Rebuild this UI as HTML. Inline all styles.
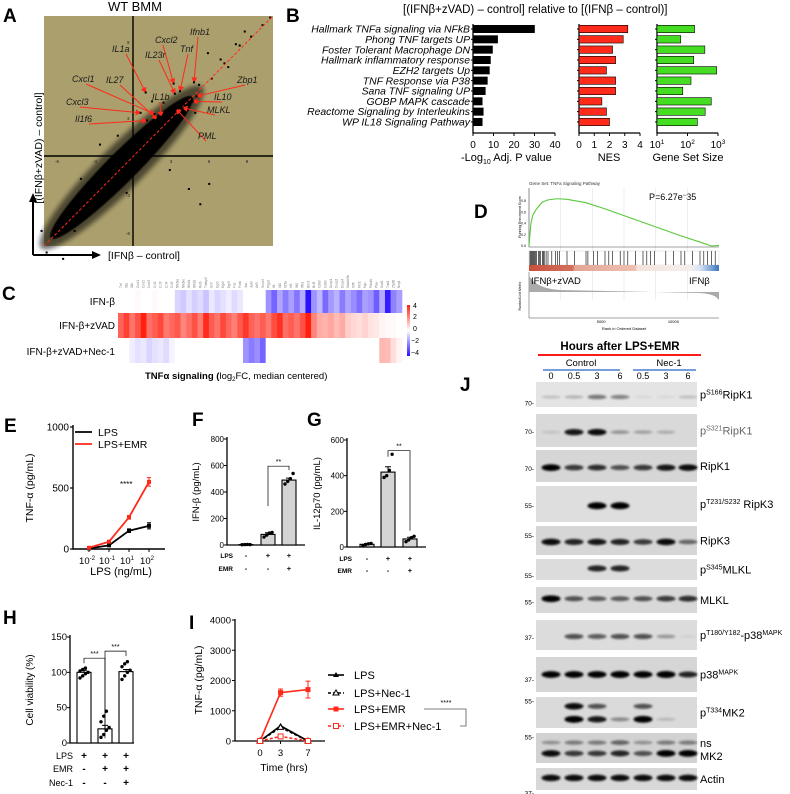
<!DOCTYPE html>
<html><head><meta charset="utf-8">
<style>
html,body{margin:0;padding:0;background:#fff;}
svg{display:block;font-family:"Liberation Sans",sans-serif;}
.pl{font-weight:bold;font-size:19px;}
</style></head>
<body>
<svg id="fig" width="790" height="794" viewBox="0 0 790 794" xmlns="http://www.w3.org/2000/svg">
<defs>
<filter id="blur1" x="-20%" y="-50%" width="140%" height="200%"><feGaussianBlur stdDeviation="1"/></filter>
<filter id="blur2"><feGaussianBlur stdDeviation="2.5"/></filter>
<filter id="blur05"><feGaussianBlur stdDeviation="0.6"/></filter>
<linearGradient id="stripGrad" x1="0" x2="1" y1="0" y2="0">
<stop offset="0" stop-color="#c9503c"/><stop offset="0.23" stop-color="#d2705c"/><stop offset="0.24" stop-color="#e3a594"/><stop offset="0.56" stop-color="#eec0b2"/><stop offset="0.57" stop-color="#f5e3dc"/><stop offset="0.85" stop-color="#f5eeee"/><stop offset="0.9" stop-color="#d8e4f2"/><stop offset="1" stop-color="#3a75c0"/>
</linearGradient>
<linearGradient id="cbarGrad" x1="0" x2="0" y1="0" y2="1">
<stop offset="0" stop-color="#ff2010"/><stop offset="0.5" stop-color="#ffffff"/><stop offset="1" stop-color="#2a10ff"/>
</linearGradient>
<marker id="arrR" markerWidth="6" markerHeight="6" refX="5" refY="3" orient="auto"><path d="M0,0 L6,3 L0,6 z" fill="#ff2a1a"/></marker>
</defs>

<!-- Panel A -->
<g id="panelA">
<text class="pl" x="3" y="22">A</text>
<text x="135" y="11" font-size="13" text-anchor="middle">WT BMM</text>
<rect x="44" y="16" width="229" height="230" fill="#ab9f6d"/>
<g id="cloud"></g>
<line x1="133" y1="16" x2="133" y2="246" stroke="#000" stroke-width="1.4"/>
<line x1="44" y1="156" x2="273" y2="156" stroke="#000" stroke-width="1.4"/>
<line x1="44" y1="246" x2="273" y2="16" stroke="#ff2a1a" stroke-width="1" stroke-dasharray="3,2"/>
<g font-size="4.5" fill="#222">
<text x="57" y="163" text-anchor="middle">-6</text><text x="95" y="163" text-anchor="middle">-3</text><text x="171" y="163" text-anchor="middle">3</text><text x="209" y="163" text-anchor="middle">6</text><text x="247" y="163" text-anchor="middle">9</text>
<text x="127" y="44">9</text><text x="127" y="120">3</text><text x="126" y="197">-3</text><text x="126" y="235">-6</text>
</g>
<g id="geneLabels" font-size="9" font-style="italic" fill="#1a1a1a"></g>
<path d="M33,255 L33,200 M33,255 L96,255" stroke="#000" stroke-width="2" fill="none"/>
<polygon points="33,193 29,202 37,202" fill="#000"/>
<polygon points="101,255 92,251 92,259" fill="#000"/>
<text transform="translate(42,148) rotate(-90)" font-size="10.5" text-anchor="middle">[(IFNβ+zVAD) – control]</text>
<text x="108" y="259" font-size="10.5">[IFNβ – control]</text>
</g>

<!-- Panel B -->
<g id="panelB">
<text class="pl" x="286" y="22">B</text>
<text x="403" y="13" font-size="11.5">[(IFNβ+zVAD) – control] relative to [(IFNβ – control)]</text>
<g id="bChart"></g>
</g>

<!-- Panel D -->
<g id="panelD">
<text class="pl" x="474" y="218">D</text>
<text x="529" y="185" font-size="4.5" fill="#333">Gene Set: TNFa Signaling Pathway</text>
<text x="649" y="200" font-size="9">P=6.27e<tspan dy="-3" font-size="6">−</tspan><tspan dy="3">35</tspan></text>
<g id="dChart"></g>
</g>

<!-- Panel C -->
<g id="panelC">
<text class="pl" x="2" y="300">C</text>
<g font-size="10" text-anchor="end">
<text x="115" y="305">IFN-β</text>
<text x="115" y="329">IFN-β+zVAD</text>
<text x="115" y="355">IFN-β+zVAD+Nec-1</text>
</g>
<g id="cChart"></g>
<rect x="407" y="305" width="3" height="51" fill="url(#cbarGrad)"/>
<g font-size="7">
<text x="413" y="308">4</text><text x="413" y="319">2</text><text x="413" y="331">0</text><text x="411" y="343">−2</text><text x="411" y="355">−4</text>
</g>
<text x="145" y="379" font-size="9.5"><tspan font-weight="bold">TNFα signaling (</tspan>log<tspan font-size="6" dy="2">2</tspan><tspan dy="-2">FC, median centered)</tspan></text>
</g>

<!-- Panel E -->
<g id="panelE">
<text class="pl" x="4" y="432">E</text>
<g id="eChart"></g>
</g>
<g id="panelF">
<text class="pl" x="192" y="426">F</text>
<g id="fChart"></g>
</g>
<g id="panelG">
<text class="pl" x="307" y="426">G</text>
<g id="gChart"></g>
</g>
<g id="panelH">
<text class="pl" x="3" y="624">H</text>
<g id="hChart"></g>
</g>
<g id="panelI">
<text class="pl" x="189" y="629">I</text>
<g id="iChart"></g>
</g>

<!-- Panel J -->
<g id="panelJ">
<text class="pl" x="460" y="391">J</text>
<text x="620" y="350" font-size="11.5" font-weight="bold" text-anchor="middle">Hours after LPS+EMR</text>
<line x1="538" y1="355" x2="701" y2="355" stroke="#ff1a1a" stroke-width="2"/>
<text x="581" y="366" font-size="9.5" text-anchor="middle">Control</text>
<text x="669" y="366" font-size="9.5" text-anchor="middle">Nec-1</text>
<line x1="543" y1="370" x2="620" y2="370" stroke="#4a7fd0" stroke-width="1.4"/>
<line x1="633" y1="370" x2="696" y2="370" stroke="#4a7fd0" stroke-width="1.4"/>
<g id="jChart"></g>
</g>
</svg>

<script>
const NS = "http://www.w3.org/2000/svg";
function mk(tag, attrs, parent){ const e=document.createElementNS(NS,tag); for(const k in attrs) e.setAttribute(k,attrs[k]); parent.appendChild(e); return e; }
function lin(d0,d1,r0,r1){ return v => r0 + (v-d0)/(d1-d0)*(r1-r0); }

/* ---------- Panel A data ---------- */
const aGenes = ["Ifnb1","Cxcl2","Tnf","IL23r","IL1a","Zbp1","IL10","IL1b","IL27","Cxcl1","MLKL","PML","Cxcl3","Il1f6"];
const aGeneX = [4.8,3.2,3.7,3.3,1.0,5.0,4.7,2.2,1.9,1.7,3.9,3.4,0.6,1.1];
const aGeneY = [5.8,5.7,5.1,4.9,5.0,4.7,4.3,3.1,2.9,3.3,3.8,3.7,3.4,2.8];
const aLabelX = [190,155,180,145,112,237,214,152,106,72,207,198,66,75];
const aLabelY = [35,43,52,58,52,83,100,100,83,82,113,139,105,122];
const aOutX = [10.8,10.2,9.3,8.4,8.1,7.2,6.9,6.2,5.9,5.2,2.4,3.8,4.9,1.5,-1.2,-0.5,7.5,5.3,-4.6,-6.8,-7.2,-4.1,-2.6,2.9,6.0,4.4,-5.5,8.8];
const aOutY = [10.9,10.3,9.4,8.7,8.8,7.3,7.6,6.1,8.1,5.6,4.2,3.1,3.4,4.3,1.6,-2.9,7.0,-3.8,-5.9,-7.6,-5.9,-1.8,0.9,-1.1,-2.2,-2.6,-8.1,9.8];
const ax = lin(0,1,133,145.7), ay = lin(0,1,156,143.3);
(function(){
 const cloud=document.getElementById('cloud');
 const cx=ax(-0.9), cy=ay(-0.9);
 let e=mk('ellipse',{cx:cx,cy:cy,rx:114,ry:22,fill:'#000',opacity:0.55,filter:'url(#blur2)',transform:`rotate(-45 ${cx} ${cy})`},cloud);
  
 e=mk('ellipse',{cx:cx,cy:cy,rx:100,ry:15,fill:'#000',filter:'url(#blur05)',transform:`rotate(-45 ${cx} ${cy})`},cloud);
  
 for(let i=0;i<aOutX.length;i++){
  const p=mk('rect',{x:ax(aOutX[i])-1,y:ay(aOutY[i])-1,width:2,height:2,fill:'#000'},cloud);
   
 }
 const gl=document.getElementById('geneLabels');
 for(let i=0;i<aGenes.length;i++){
  const tx=aLabelX[i], ty=aLabelY[i];
  const px=ax(aGeneX[i]), py=ay(aGeneY[i]);
  const sx = tx<px-20 ? tx+14 : tx+8;
  const l=mk('line',{x1:sx,y1:ty+2,x2:px,y2:py,stroke:'#ff2a1a','stroke-width':1,'marker-end':'url(#arrR)'},gl);
   
  const p=mk('rect',{x:px-1,y:py-1,width:2,height:2,fill:'#000'},gl);
   
  const t=mk('text',{x:tx,y:ty},gl); t.textContent=aGenes[i];
   
 }
})();

/* ---------- Panel B data ---------- */
const bCats = ["Hallmark TNFa signaling via NFkB","Phong TNF targets UP","Foster Tolerant Macrophage DN","Hallmark inflammatory response","EZH2 targets Up","TNF Response via P38","Sana TNF signaling UP","GOBP MAPK cascade","Reactome Signaling by Interleukins","WP IL18 Signaling Pathway"];
const bLogP = [30,12,9.5,8.5,8,7,6,4.5,5,4.5];
const bNES = [3.2,2.9,2.2,2.4,1.8,2.4,2.4,1.5,1.8,2.0];
const bSize = [170,60,370,160,900,130,70,600,380,210];
const bTicksP = [0,10,20,30,40], bTicksN=[0,1,2,3,4];
(function(){
 const g=document.getElementById('bChart');
 const ry = i => 29 + i*10.33;
 bCats.forEach((c,i)=>{ const t=mk('text',{x:470,y:ry(i)+3.6,'font-size':10.4,'font-style':'italic','text-anchor':'end'},g); t.textContent=c;
    });
 const panels=[
  {vals:bLogP,x0:473,x1:555,sc:lin(0,40,473,555),col:'#000',ticks:bTicksP,title:'-Log',name:'logp'},
  {vals:bNES,x0:579,x1:640,sc:lin(0,4,579,640),col:'#ff2a1a',ticks:bTicksN,title:'NES',name:'nes'},
  {vals:bSize,x0:657,x1:718,sc:v=>657+(Math.log10(v)-1)/2*61,col:'#44dd22',ticks:null,title:'Gene Set Size',name:'size'}];
 panels.forEach(P=>{
  const ax0=mk('path',{d:`M${P.x0},24 V133 H${P.x1}`,stroke:'#000','stroke-width':1.3,fill:'none'},g);
   
  P.vals.forEach((v,i)=>{
   const r=mk('rect',{x:P.x0,y:ry(i)-3.7,width:P.sc(v)-P.x0,height:7.4,fill:P.col,stroke:'#000','stroke-width':0.6},g);
    
   const tk=mk('line',{x1:P.x0-2,x2:P.x0,y1:ry(i),y2:ry(i),stroke:'#000'},g);
    
  });
  if(P.ticks){ P.ticks.forEach(tv=>{ const x=P.sc(tv);
    const tk=mk('line',{x1:x,x2:x,y1:133,y2:136,stroke:'#000'},g);  
    const t=mk('text',{x:x,y:148,'font-size':10,'text-anchor':'middle'},g); t.textContent=tv;   }); }
  else { [1,2,3].forEach(p=>{ const x=657+(p-1)/2*61;
    const tk=mk('line',{x1:x,x2:x,y1:133,y2:136,stroke:'#000'},g);  
    const t=mk('text',{x:x,y:148,'font-size':10,'text-anchor':'middle'},g); t.innerHTML='10<tspan dy="-4" font-size="6.5">'+p+'</tspan>';
      }); }
 });
 let t=mk('text',{x:461,y:161,'font-size':11},g); t.innerHTML='-Log<tspan font-size="7" dy="3">10</tspan><tspan dy="-3"> Adj. P value</tspan>';
  
 t=mk('text',{x:609,y:161,'font-size':11,'text-anchor':'middle'},g); t.textContent='NES';
  
 t=mk('text',{x:688,y:161,'font-size':11,'text-anchor':'middle'},g); t.textContent='Gene Set Size';
  
})();

/* ---------- Panel D data ---------- */
const dRankFrac = [0,0.01,0.02,0.04,0.07,0.1,0.15,0.2,0.3,0.4,0.5,0.6,0.7,0.8,0.9,0.96,1];
const dES = [0,0.4,0.55,0.66,0.78,0.82,0.84,0.83,0.77,0.66,0.54,0.42,0.3,0.18,0.07,0,0.01];
const dHits = [0.005,0.01,0.015,0.02,0.025,0.03,0.035,0.04,0.05,0.055,0.06,0.07,0.075,0.08,0.09,0.1,0.12,0.14,0.15,0.16,0.2,0.24,0.3,0.31,0.34,0.36,0.4,0.42,0.44,0.48,0.5,0.52,0.56,0.6,0.62,0.64,0.66,0.72,0.76,0.8,0.82,0.86,0.9,0.92,0.94,0.96,0.98];
const dEsTicks = [0,0.2,0.4,0.6,0.8];
(function(){
 const g=document.getElementById('dChart');
 const X=lin(0,1,529,719), Y=lin(0,0.8,246,201);
 for(let k=1;k<6;k++){ const l=mk('line',{x1:X(k/6),x2:X(k/6),y1:188,y2:300,stroke:'#ddd','stroke-width':0.5},g);   }
 const ax0=mk('path',{d:'M529,188 V247 H719',stroke:'#444','stroke-width':0.6,fill:'none'},g);  
 dEsTicks.forEach(v=>{ const t=mk('text',{x:526,y:Y(v)+1,'font-size':3.5,'text-anchor':'end'},g); t.textContent=v.toFixed(1);   });
 let t=mk('text',{transform:'translate(521,217) rotate(-90)','font-size':3.5,'text-anchor':'middle'},g); t.textContent='Running Enrichment Score';  
 const pts=dRankFrac.map((f,i)=>X(f)+','+Y(dES[i])).join(' ');
 const pl=mk('polyline',{points:pts,fill:'none',stroke:'#5ac83c','stroke-width':1.1},g);  
 const bc=mk('rect',{x:529,y:251,width:190,height:14,fill:'#fff',stroke:'#ccc','stroke-width':0.4},g);  
 dHits.forEach(h=>{ const l=mk('line',{x1:X(h),x2:X(h),y1:251,y2:265,stroke:'#000','stroke-width':0.6},g);   });
 const st=mk('rect',{x:529,y:265,width:190,height:6,fill:'url(#stripGrad)'},g);  
 const mb=mk('path',{d:'M529,272 V318 H719',stroke:'#444','stroke-width':0.5,fill:'none'},g);  
 const ar=mk('path',{d:'M529,292 L529,276 C535,285 545,289 560,290 L700,293 C712,294 716,296 719,300 L719,292 Z',fill:'#aaa'},g);  
 t=mk('text',{x:531,y:284,'font-size':9.5},g); t.textContent='IFNβ+zVAD';  
 t=mk('text',{x:689,y:284,'font-size':9.5},g); t.textContent='IFNβ';  
 t=mk('text',{transform:'translate(521,296) rotate(-90)','font-size':3.5,'text-anchor':'middle'},g); t.textContent='Ranked List Metric';  
 [[5000,0.38],[10000,0.76]].forEach(a=>{ const tt=mk('text',{x:X(a[1]),y:323,'font-size':4,'text-anchor':'middle'},g); tt.textContent=a[0];   });
 t=mk('text',{x:624,y:330,'font-size':4,'text-anchor':'middle'},g); t.textContent='Rank in Ordered Dataset';  
})();

/* ---------- Panel C data ---------- */
const cRowIFN = [0,0,0,0.1,0,0,0.1,0,0,0,-0.7,-0.9,-0.5,-0.8,-0.6,-1,-0.4,-0.7,-0.5,-0.3,-0.6,-0.4,0,0,0,0,-1.8,-2.6,-1.5,-2.2,-1.6,-2.3,-1.4,-4,-1.8,-1.2,-2.5,-1.7,-1.3,-2.2,-1.5,-1.9,-2.4,-1.6,-1.8,-2.7,-1.4,-3.8,-2.1,-1.6];
const cRowZVAD = [2.8,3.4,2.5,3.1,4,2.6,2.9,3.3,2.4,2.7,3.0,2.2,2.6,3.1,2.4,3.8,2.9,2.5,3.3,2.7,2.3,3.0,3.6,2.8,2.5,2.9,2.4,3.2,3.7,2.6,2.9,2.5,3.1,4,2.2,1.5,1.4,1.6,1.2,1.5,0.9,0.7,0.6,0.8,0.5,0.4,0.2,0.1,0.1,0];
const cRowNEC = [0,0,-0.3,-0.5,-0.4,-0.7,-0.5,-0.4,-0.6,-0.2,0,0,0,0,0,0,0,0,0,0,0,0,-1.8,-2.2,-1.9,-2.6,0,0,0,0,0,0,0,0,0,0,0,0,0,0,0,0,0,0,0,0,1.3,1.2,0.6,0.2];
const cGenes = ["Tnf","Il1a","Il1b","Cxcl1","Cxcl2","Cxcl3","Ccl2","Ccl3","Ccl4","Ccl5","Nfkbia","Nfkbie","Nfkb1","Nfkb2","Relb","Tnfaip3","Ier3","Egr1","Egr2","Egr3","Fos","Fosb","Jun","Junb","Atf3","Socs3","Ptgs2","Il6","Il10","Il23a","Irf1","Ifit2","Ifih1","Birc3","Bcl3","Cd83","Cd69","Dusp1","Dusp2","Dusp4","Gadd45b","Klf6","Mcl1","Myc","Pde4b","Plau","Sod2","Traf1","Zfp36","Ninj1"];
(function(){
 const g=document.getElementById('cChart');
 const w=284/50;
 function col(v){ const a=Math.min(1,Math.abs(v)/4);
  if(v>=0) return `rgb(255,${Math.round(255-a*(255-32))},${Math.round(255-a*(255-16))})`;
  return `rgb(${Math.round(255-a*(255-42))},${Math.round(255-a*(255-16))},255)`; }
 [[cRowIFN,290,23,'ifnb'],[cRowZVAD,313,25,'ifnb-zvad'],[cRowNEC,338,25,'ifnb-zvad-nec1']].forEach(r=>{
  r[0].forEach((v,i)=>{ const c=mk('rect',{x:118+i*w,y:r[1],width:w+0.3,height:r[2],fill:col(v)},g);
     });
 });
 cGenes.forEach((n,i)=>{ const x=118+i*w+w/2; const t=mk('text',{transform:`translate(${x+1},288) rotate(-90)`,'font-size':3.2,fill:'#777'},g); t.textContent=n;
    });
})();

/* ---------- Panel E data ---------- */
const eDoses = ["-2","-1","1","2"];
const eLPS = [5,30,150,190];
const eEMR = [10,60,260,550];
const eErrLPS = [5,5,15,25];
const eErrEMR = [5,8,15,35];
const eTicks = [0,500,1000];
(function(){
 const g=document.getElementById('eChart');
 const X=i=>89+i*20, Y=lin(0,1000,549,427);
 const ax0=mk('path',{d:'M73,425 V549 H165',stroke:'#000','stroke-width':1.4,fill:'none'},g);  
 eTicks.forEach(v=>{ const l=mk('line',{x1:70,x2:73,y1:Y(v),y2:Y(v),stroke:'#000','stroke-width':1.2},g);  
  const t=mk('text',{x:69,y:Y(v)+3.5,'font-size':10,'text-anchor':'end'},g); t.textContent=v;   });
 eDoses.forEach((d,i)=>{ const l=mk('line',{x1:X(i),x2:X(i),y1:549,y2:552,stroke:'#000'},g);  
  const t=mk('text',{x:X(i)-2,y:564,'font-size':9.5,'text-anchor':'middle'},g); t.innerHTML='10<tspan dy="-4" font-size="6">'+d+'</tspan>';   });
 [[eLPS,eErrLPS,'#000','lps'],[eEMR,eErrEMR,'#ff2a1a','lps-emr']].forEach(s=>{
  const pl=mk('polyline',{points:s[0].map((v,i)=>X(i)+','+Y(v)).join(' '),fill:'none',stroke:s[2],'stroke-width':1.8},g);
   
  s[0].forEach((v,i)=>{ const e=mk('path',{d:`M${X(i)},${Y(v-s[1][i])} V${Y(v+s[1][i])} M${X(i)-2},${Y(v+s[1][i])} h4 M${X(i)-2},${Y(v-s[1][i])} h4`,stroke:s[2],'stroke-width':1},g);
    
   const p=mk('rect',{x:X(i)-2,y:Y(v)-2,width:4,height:4,fill:s[2]},g);   });
 });
 let l=mk('line',{x1:75,x2:92,y1:432,y2:432,stroke:'#000','stroke-width':1.8},g);  
 let t=mk('text',{x:98,y:436,'font-size':10.5},g); t.textContent='LPS';  
 l=mk('line',{x1:75,x2:92,y1:444,y2:444,stroke:'#ff2a1a','stroke-width':1.8},g);  
 t=mk('text',{x:98,y:448,'font-size':10.5},g); t.textContent='LPS+EMR';  
 t=mk('text',{x:120,y:487,'font-size':8},g); t.textContent='****';  
 t=mk('text',{transform:'translate(33,488) rotate(-90)','font-size':10.5,'text-anchor':'middle'},g); t.textContent='TNF-α (pg/mL)';  
 t=mk('text',{x:121,y:575,'font-size':11,'text-anchor':'middle'},g); t.textContent='LPS (ng/mL)';  
})();

/* ---------- Bar charts F, G, H ---------- */
const fVals = [3,80,490];
const fErr = [2,12,15];
const fPts = [[2,3,4,3],[60,75,90,95],[460,480,500,540]];
const fTicks = [0,200,400,600,800];
const gVals = [15,420,45];
const gErr = [4,30,10];
const gPts = [[8,14,18,20],[390,400,430,520],[30,40,52,60]];
const gTicks = [0,200,400,600];
const hVals = [100,20,101];
const hErr = [3,5,3];
const hPts = [[92,95,98,100,102,104,106],[8,12,18,22,30,38,45],[90,95,100,103,108,112,115]];
const hTicks = [0,50,100,150];
function barChart(gid, o){
 const g=document.getElementById(gid);
 const Y=lin(0,o.max,o.y0,o.y1);
 const ax0=mk('path',{d:`M${o.ax},${o.y1-2} V${o.y0} H${o.xEnd}`,stroke:'#000','stroke-width':1.3,fill:'none'},g);
  
 o.ticks.forEach(v=>{ const l=mk('line',{x1:o.ax-3,x2:o.ax,y1:Y(v),y2:Y(v),stroke:'#000'},g);  
  const t=mk('text',{x:o.ax-3,y:Y(v)+3,'font-size':o.fs,'text-anchor':'end'},g); t.textContent=v;   });
 o.vals.forEach((v,i)=>{ const cx=o.cx[i];
  const r=mk('rect',{x:cx-o.bw/2,y:Y(v),width:o.bw,height:o.y0-Y(v),fill:o.fills[i],stroke:'#000','stroke-width':1.1},g);
   
  const e=mk('path',{d:`M${cx},${Y(v)} V${Y(v+o.err[i])} M${cx-3},${Y(v+o.err[i])} h6`,stroke:'#000','stroke-width':1},g);
   
  o.pts[i].forEach((p,j)=>{ const c=mk('circle',{cx:cx-4+(j%4)*2.7,cy:Y(p),r:1.7,fill:'#000'},g);   });
 });
 o.rows.forEach((row,ri)=>{ const t=mk('text',{x:o.rowLabelX,y:o.rowY[ri],'font-size':o.rfs,'font-weight':o.rbold?'bold':'normal','text-anchor':'end'},g); t.textContent=row[0];
    
   row[1].forEach((s,i)=>{ const tt=mk('text',{x:o.cx[i],y:o.rowY[ri],'font-size':o.rfs+1,'font-weight':'bold','text-anchor':'middle'},g); tt.textContent=s;
      }); });
 const yt=mk('text',{transform:`translate(${o.ytx},${(o.y0+o.y1)/2}) rotate(-90)`,'font-size':o.yfs,'text-anchor':'middle'},g); yt.textContent=o.ylabel;
  
 o.sig.forEach(s=>{ const p=mk('path',{d:`M${o.cx[s[0]]},${Y(s[2])+s[4]} V${Y(s[2])} H${o.cx[s[1]]} V${Y(s[2])+s[5]}`,stroke:'#000','stroke-width':0.7,fill:'none'},g);
   
  const t=mk('text',{x:(o.cx[s[0]]+o.cx[s[1]])/2,y:Y(s[2])-2,'font-size':7,'text-anchor':'middle'},g); t.textContent=s[3];
    });
}
barChart('fChart',{name:'ifnb',vals:fVals,err:fErr,pts:fPts,ticks:fTicks,max:800,y0:545,y1:439,ax:227,xEnd:305,cx:[246,268,289],bw:14,fills:['#d4d4d4','#d4d4d4','#d4d4d4'],fs:8,
 rows:[['LPS',['-','+','+']],['EMR',['-','-','+']]],rowY:[558,571],rowLabelX:233,rfs:6.5,rbold:true,ytx:199,yfs:9.5,ylabel:'IFN-β (pg/mL)',sig:[[1,2,595,'**',40,4]]});
barChart('gChart',{name:'il12',vals:gVals,err:gErr,pts:gPts,ticks:gTicks,max:600,y0:547,y1:440,ax:347,xEnd:426,cx:[367,388,410],bw:14,fills:['#d4d4d4','#d4d4d4','#d4d4d4'],fs:8,
 rows:[['LPS',['-','+','+']],['EMR',['-','-','+']]],rowY:[561,573],rowLabelX:352,rfs:6.5,rbold:true,ytx:320,yfs:9.5,ylabel:'IL-12p70 (pg/mL)',sig:[[1,2,540,'**',6,80]]});
barChart('hChart',{name:'viability',vals:hVals,err:hErr,pts:hPts,ticks:hTicks,max:150,y0:743,y1:637,ax:70,xEnd:134,cx:[84,105,126],bw:14,fills:['#fff','#fff','#fff'],fs:9.5,
 rows:[['LPS',['+','+','+']],['EMR',['-','+','+']],['Nec-1',['-','-','+']]],rowY:[759,772,786],rowLabelX:73,rfs:9,rbold:false,ytx:33,yfs:10,ylabel:'Cell viability (%)',sig:[[0,1,120,'***',5,80],[1,2,130,'***',80,5]]});

/* ---------- Panel I data ---------- */
const iTimes = [0,3,7];
const iLPS = [0,500,0];
const iLPSNec = [0,450,0];
const iEMR = [0,1600,1700];
const iEMRNec = [0,150,0];
const iErrEMR = [0,120,280];
const iTicks = [0,1000,2000,3000,4000];
(function(){
 const g=document.getElementById('iChart');
 const X=lin(0,7,260,308), Y=lin(0,4000,741,620);
 const ax0=mk('path',{d:'M235,619 V741 H325',stroke:'#000','stroke-width':1.3,fill:'none'},g);  
 iTicks.forEach(v=>{ const l=mk('line',{x1:232,x2:235,y1:Y(v),y2:Y(v),stroke:'#000'},g);  
  const t=mk('text',{x:231,y:Y(v)+3.5,'font-size':9.5,'text-anchor':'end'},g); t.textContent=v;   });
 iTimes.forEach(v=>{ const l=mk('line',{x1:X(v),x2:X(v),y1:741,y2:744,stroke:'#000'},g);  
  const t=mk('text',{x:X(v),y:756,'font-size':9.5,'text-anchor':'middle'},g); t.textContent=v;   });
 const series=[[iEMR,'#ff2a1a','','sq','lps-emr'],[iLPS,'#000','','tri','lps'],[iLPSNec,'#000','3,2','otri','lps-nec1'],[iEMRNec,'#ff2a1a','3,2','osq','lps-emr-nec1']];
 function marker(type,x,y,c){ let e;
  if(type==='sq') e=mk('rect',{x:x-2.5,y:y-2.5,width:5,height:5,fill:c},g);
  else if(type==='osq') e=mk('rect',{x:x-2.5,y:y-2.5,width:5,height:5,fill:'#fff',stroke:c,'stroke-width':1},g);
  else if(type==='tri') e=mk('polygon',{points:`${x},${y-3} ${x-3},${y+2} ${x+3},${y+2}`,fill:c},g);
  else e=mk('polygon',{points:`${x},${y-3} ${x-3},${y+2} ${x+3},${y+2}`,fill:'#fff',stroke:c,'stroke-width':1},g);
  return e; }
 series.forEach(s=>{
  const pl=mk('polyline',{points:s[0].map((v,i)=>X(iTimes[i])+','+Y(v)).join(' '),fill:'none',stroke:s[1],'stroke-width':1.6,'stroke-dasharray':s[2]||'none'},g);
   
  s[0].forEach((v,i)=>{ const m=marker(s[3],X(iTimes[i]),Y(v),s[1]);   });
 });
 iEMR.forEach((v,i)=>{ if(!iErrEMR[i]) return; const x=X(iTimes[i]);
  const e=mk('path',{d:`M${x},${Y(v-iErrEMR[i])} V${Y(v+iErrEMR[i])} M${x-2.5},${Y(v+iErrEMR[i])} h5 M${x-2.5},${Y(v-iErrEMR[i])} h5`,stroke:'#ff2a1a','stroke-width':1},g);
    });
 const leg=[['LPS','#000','','tri',675],['LPS+Nec-1','#000','3,2','otri',693],['LPS+EMR','#ff2a1a','','sq',709],['LPS+EMR+Nec-1','#ff2a1a','3,2','osq',726]];
 leg.forEach(L=>{ const l=mk('line',{x1:328,x2:344,y1:L[4],y2:L[4],stroke:L[1],'stroke-width':1.6,'stroke-dasharray':L[2]||'none'},g);
   
  const m=marker(L[3],336,L[4],L[1]);  
  const t=mk('text',{x:354,y:L[4]+4,'font-size':11},g); t.textContent=L[0];   });
 const br=mk('path',{d:'M424,709 H466 V726 H460',stroke:'#555','stroke-width':0.8,fill:'none'},g);  
 let t=mk('text',{x:446,y:705,'font-size':7,'text-anchor':'middle'},g); t.textContent='****';  
 t=mk('text',{transform:'translate(202,680) rotate(-90)','font-size':10.5,'text-anchor':'middle'},g); t.textContent='TNF-α (pg/mL)';  
 t=mk('text',{x:284,y:771,'font-size':10.5,'text-anchor':'middle'},g); t.textContent='Time (hrs)';  
})();

/* ---------- Panel J data ---------- */
const jLanes = ["0","0.5","3","6","0.5","3","6"];
const jS166 = [0.15,0.2,0.45,0.4,0.05,0.05,0.15];
const jS321 = [0.1,0.85,0.9,0.3,0.25,0.2,0];
const jRipK1 = [0.95,0.7,0.75,0.6,0.7,0.85,0.9];
const jPRipK3 = [0,0,1,1,0,0,0];
const jRipK3 = [0.9,0.8,0.85,0.8,0.7,0.9,0.5];
const jPMLKL = [0,0,0.8,0.8,0,0,0];
const jMLKL = [0.95,0.6,0.55,0.55,0.6,0.7,0.75];
const jPP38 = [0,0.6,0.55,0.6,0.6,0.3,0.05];
const jP38 = [0.95,0.95,0.95,1,0.95,1,0.8];
const jPMK2a = [0,0.9,0.6,0,0.6,0,0];
const jPMK2b = [0,1,0.85,0.35,0.95,0.15,0];
const jNS = [0.3,0.4,0.4,0.5,0.3,0.4,0.4];
const jMK2 = [0.9,0.7,0.7,0.8,0.6,0.95,0.95];
const jActin = [0.9,0.9,0.9,0.9,0.9,0.9,0.9];
(function(){
 const g=document.getElementById('jChart');
 const laneX=[551,574,597,620,643,666,688];
 jLanes.forEach((l,i)=>{ const t=mk('text',{x:laneX[i],y:379,'font-size':9,'text-anchor':'middle'},g); t.textContent=l;   });
 const blots=[
  {y0:382,y1:407,bands:[[jS166,0.6]],label:'p<tspan dy="-4" font-size="7">S166</tspan><tspan dy="4">RipK1</tspan>',mw:'70-',mwF:0.85,bg:'#e4e4e4',name:'ps166-ripk1'},
  {y0:414,y1:447,bands:[[jS321,0.55]],label:'p<tspan dy="-4" font-size="7">S321</tspan><tspan dy="4">RipK1</tspan>',mw:'70-',mwF:0.55,bg:'#d9d9d9',name:'ps321-ripk1',grey:true},
  {y0:450,y1:482,bands:[[jRipK1,0.55]],label:'RipK1',mw:'70-',mwF:0.6,bg:'#d6d6d6',name:'ripk1'},
  {y0:486,y1:522,bands:[[jPRipK3,0.55]],label:'p<tspan dy="-4" font-size="7">T231/S232</tspan><tspan dy="4"> RipK3</tspan>',mw:'55-',mwF:0.55,bg:'#dedede',name:'pripk3'},
  {y0:526,y1:555,bands:[[jRipK3,0.55]],label:'RipK3',mw:'55-',mwF:0.35,bg:'#d6d6d6',name:'ripk3'},
  {y0:559,y1:580,bands:[[jPMLKL,0.45]],label:'p<tspan dy="-4" font-size="7">S345</tspan><tspan dy="4">MLKL</tspan>',mw:'55-',mwF:0.8,bg:'#dcdcdc',name:'pmlkl'},
  {y0:587,y1:613,bands:[[jMLKL,0.45]],label:'MLKL',mw:'55-',mwF:0.6,bg:'#d8d8d8',name:'mlkl'},
  {y0:620,y1:650,bands:[[jPP38,0.55]],label:'p<tspan dy="-4" font-size="7">T180/Y182</tspan><tspan dy="4">-p38</tspan><tspan dy="-4" font-size="7">MAPK</tspan>',mw:'37-',mwF:0.6,bg:'#dcdcdc',name:'pp38'},
  {y0:657,y1:692,bands:[[jP38,0.5]],label:'p38<tspan dy="-4" font-size="7">MAPK</tspan>',mw:'37-',mwF:0.65,bg:'#d6d6d6',name:'p38'},
  {y0:697,y1:728,bands:[[jPMK2a,0.3],[jPMK2b,0.72]],label:'p<tspan dy="-4" font-size="7">T334</tspan><tspan dy="4">MK2</tspan>',mw:'55-',mwF:0.15,bg:'#dadada',name:'pmk2'},
  {y0:733,y1:763,bands:[[jNS,0.32],[jMK2,0.68]],label:'',mw:'55-',mwF:0.15,bg:'#d2d2d2',name:'mk2'},
  {y0:768,y1:790,bands:[[jActin,0.45]],label:'Actin',mw:'37-',mwF:1.15,bg:'#d8d8d8',name:'actin'}];
 blots.forEach(B=>{
  const r=mk('rect',{x:536,y:B.y0,width:161,height:B.y1-B.y0,fill:B.bg},g);  
  B.bands.forEach(bd=>{ const by=B.y0+(B.y1-B.y0)*bd[1];
   bd[0].forEach((v,i)=>{ if(v<=0.02) return;
    const e=mk('ellipse',{cx:laneX[i],cy:by,rx:9.5,ry:1.2+2.3*v,fill:'#000',opacity:Math.min(1,v*1.05),filter:'url(#blur1)'},g);
      }); });
  const mwy=B.y0+(B.y1-B.y0)*B.mwF;
  const m=mk('text',{x:534,y:mwy+2,'font-size':6.5,'text-anchor':'end'},g); m.textContent=B.mw;  
  if(B.label){ const t=mk('text',{x:700,y:(B.y0+B.y1)/2+4,'font-size':11,fill:B.grey?'#666':'#000'},g); t.innerHTML=B.label;
     }
 });
 let t=mk('text',{x:700,y:747,'font-size':11},g); t.textContent='ns';  
 t=mk('text',{x:700,y:760,'font-size':11},g); t.textContent='MK2';  
})();
</script>
</body></html>
